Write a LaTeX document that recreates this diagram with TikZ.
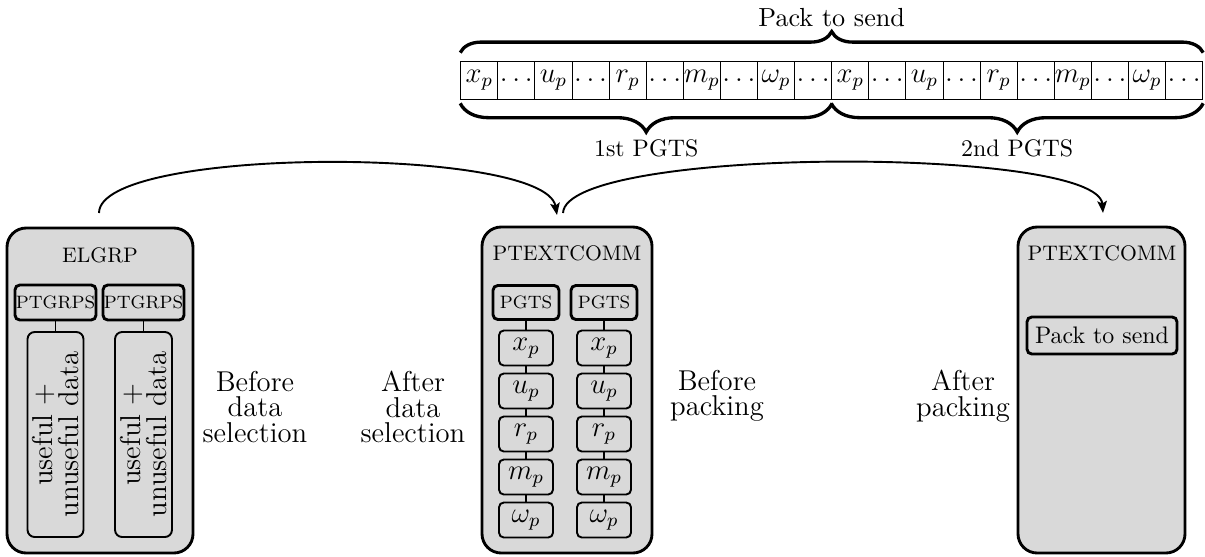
\documentclass[tikz,border=0pt]{standalone}
\usetikzlibrary{arrows.meta,decorations.pathreplacing,calc}
\newdimen\U \U=0.4184pt
\begin{document}
\begin{tikzpicture}[x=0.4184pt,y=-0.4184pt,
  bigbox/.style={draw, line width=1.2pt, rounded corners=8pt, fill=gray!30, inner sep=0pt},
  hdrtxt/.style={font=\fontsize{8.8}{10}\selectfont, inner sep=0pt},
  hdr/.style={draw, line width=1.2pt, rounded corners=2pt, inner sep=0pt, font=\fontsize{7.5}{9}\selectfont},
  item/.style={draw, line width=0.8pt, rounded corners=2pt, minimum width=54\U, minimum height=35\U, inner sep=0pt, font=\fontsize{12}{14}\selectfont},
  cell/.style={draw, line width=0.4pt, minimum width=37.1\U, minimum height=37.6\U, inner sep=0pt, font=\fontsize{12}{14}\selectfont},
  lbl/.style={align=center, inner sep=0pt, font=\fontsize{12}{10.7}\selectfont},
  link/.style={line width=0.8pt},
  arr/.style={line width=0.8pt, -{Stealth[length=5pt,width=4pt,inset=1pt]}},
  brc/.style={decorate, decoration={brace, amplitude=#1}, line width=1.4pt}
]
\useasboundingbox (0,0) rectangle (1205,556);

% ---- top strip of cells
\foreach [count=\i] \t in {$x_p$,$\dots$,$u_p$,$\dots$,$r_p$,$\dots$,$m_p$,$\dots$,$\omega_p$,$\dots$,$x_p$,$\dots$,$u_p$,$\dots$,$r_p$,$\dots$,$m_p$,$\dots$,$\omega_p$,$\dots$}
  \node[cell] (c\i) at ({460.7+37.1*(\i-0.5)},80.5) {\t};

\draw[brc=8.8pt] ([yshift=3.6pt]c1.north west) -- ([yshift=3.6pt]c20.north east)
  node[midway, yshift=14.7pt, font=\fontsize{10.95}{13}\selectfont] (packlbl) {Pack to send};
\draw[brc=12pt] ([yshift=-1.5pt]c10.south east) -- ([yshift=-1.5pt]c1.south west)
  node[midway, yshift=-19pt, font=\fontsize{10}{12}\selectfont] (first) {1st PGTS};
\draw[brc=12pt] ([yshift=-1.5pt]c20.south east) -- ([yshift=-1.5pt]c11.south west)
  node[midway, yshift=-19pt, font=\fontsize{10}{12}\selectfont] (second) {2nd PGTS};

% ---- left box
\node[bigbox, minimum width=186\U, minimum height=325\U] (elgrp) at (100,390.5) {};
\node[hdrtxt] (elgrpt) at (100,255) {ELGRP};
\node[hdr, minimum width=81\U, minimum height=35\U] (g1) at (55.5,302.5) {PTGRPS};
\node[hdr, minimum width=81\U, minimum height=35\U] (g2) at (143.5,302.5) {PTGRPS};
\node[draw, line width=0.8pt, rounded corners=3pt, minimum width=56\U, minimum height=205\U] (d1) at (55.5,434.5) {};
\node[draw, line width=0.8pt, rounded corners=3pt, minimum width=57\U, minimum height=205\U] (d2) at (143.5,434.5) {};
\node[lbl, rotate=90] (d1t) at (d1.center) {useful +\\unuseful data};
\node[lbl, rotate=90] (d2t) at (d2.center) {useful +\\unuseful data};
\draw[link] (g1) -- (d1);
\draw[link] (g2) -- (d2);

% ---- middle box
\node[bigbox, minimum width=170\U, minimum height=326\U] (mid) at (567,390) {};
\node[hdrtxt] (midt) at (567,253) {PTEXTCOMM};
\node[hdr, minimum width=66\U, minimum height=34\U] (p1) at (526,302.5) {PGTS};
\node[hdr, minimum width=66\U, minimum height=34\U] (p2) at (604,302.5) {PGTS};
\foreach \c/\xx in {a/526,b/604}{
  \node[item] (\c1) at (\xx,348) {$x_p$};
  \node[item] (\c2) at (\xx,391) {$u_p$};
  \node[item] (\c3) at (\xx,434) {$r_p$};
  \node[item] (\c4) at (\xx,477) {$m_p$};
  \node[item] (\c5) at (\xx,520) {$\omega_p$};
  \draw[link] (\c1) -- (\c2);
  \draw[link] (\c2) -- (\c3);
  \draw[link] (\c3) -- (\c4);
  \draw[link] (\c4) -- (\c5);
}
\draw[link] (p1) -- (a1);
\draw[link] (p2) -- (b1);

% ---- right box
\node[bigbox, minimum width=167\U, minimum height=326\U] (right) at (1101.5,390) {};
\node[hdrtxt] (rightt) at (1102,253) {PTEXTCOMM};
\node[draw, line width=1.2pt, rounded corners=2pt, minimum width=150\U, minimum height=37\U, inner sep=0pt, font=\fontsize{10}{12}\selectfont] (pk) at (1102,335.5) {Pack to send};

% ---- labels
\node[lbl] (lab1) at (255,407) {Before\\data\\selection};
\node[lbl] (lab2) at (413,407) {After\\data\\selection};
\node[lbl] (lab3) at (717,396) {Before\\packing};
\node[lbl] (lab4) at (963,396) {After\\packing};

% ---- arrows
\coordinate (s1) at (99,213);
\coordinate (e1) at (557,215);
\coordinate (s2) at (563,213);
\coordinate (e2) at (1103,213);
\draw[arr] (s1) .. controls (99,146) and (545,146) .. (e1);
\draw[arr] (s2) .. controls (566,146) and (1098,146) .. (e2);
\end{tikzpicture}
\end{document}
